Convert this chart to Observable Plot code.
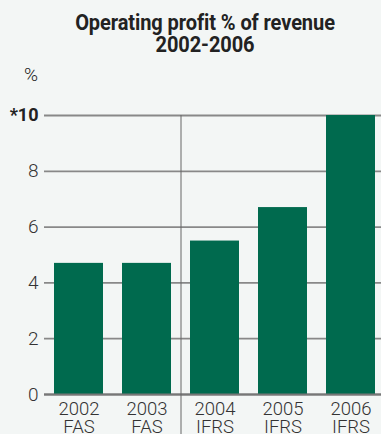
<!DOCTYPE html>
<html>
<head>
<meta charset="utf-8">
<script src="https://cdn.jsdelivr.net/npm/d3@7"></script>
<script src="https://cdn.jsdelivr.net/npm/@observablehq/plot@0.6"></script>
<style>
  html, body { margin: 0; padding: 0; background: #f3f6f5; }
  body { width: 381px; height: 434px; overflow: hidden; position: relative;
         font-family: Roboto, "DejaVu Sans Condensed", sans-serif; color: #222; }
  #title { position: absolute; left: 0; top: 0; width: 410px; text-align: center;
           font-weight: bold; font-size: 22.5px; line-height: 22px; padding-top: 11px; color: #222;
           transform: scaleX(0.89); transform-origin: 205px 0; letter-spacing: -0.1px; }
  #chart { position: absolute; left: 0; top: 60px; }
  #unit { position: absolute; left: 24px; top: 63px; font-size: 19px; font-weight: 300; color: #222; }
</style>
</head>
<body>
<div id="title">Operating profit % of revenue<br>2002-2006</div>
<div id="unit">%</div>
<div id="chart"></div>
<script>
const years = ["2002", "2003", "2004", "2005", "2006"];
const standards = ["FAS", "FAS", "IFRS", "IFRS", "IFRS"];
const profitPct = [4.7, 4.7, 5.5, 6.7, 10.0];
const yTicks = [0, 2, 4, 6, 8];
const yTopTick = [10];

const data = years.map((y, i) => ({year: y, std: standards[i], value: profitPct[i]}));
const font = 'Roboto, "DejaVu Sans Condensed", sans-serif';

const chart = Plot.plot({
  width: 381,
  height: 374,
  marginLeft: 44,
  marginRight: 0,
  marginTop: 55,
  marginBottom: 40,
  style: {background: "transparent", fontFamily: font, overflow: "visible"},
  x: {domain: years, range: [44.5, 384.5], paddingInner: 0.28, paddingOuter: 0.14, axis: null},
  y: {domain: [0, 10], axis: null},
  marks: [
    Plot.ruleY([...yTicks, ...yTopTick], {stroke: "#888", strokeWidth: 1.8}),
    Plot.barY(data, {x: "year", y: "value", fill: "#006a4e"}),
    Plot.ruleY([0], {stroke: "#777", strokeWidth: 1.8}),
    Plot.ruleX([years[2]], {y1: yTopTick[0], y2: -1.5, dx: -34, stroke: "#666", strokeWidth: 1}),
    Plot.text(yTicks, {y: d => d, frameAnchor: "left", dx: -6, textAnchor: "end",
      text: d => String(d), fontSize: 19, fontWeight: 300, fill: "#333"}),
    Plot.text(yTopTick, {y: d => d, frameAnchor: "left", dx: -6, textAnchor: "end",
      text: d => "*" + d, fontSize: 18, fontWeight: "bold", fill: "#222"}),
    Plot.text(data, {x: "year", frameAnchor: "bottom", dy: 7, text: d => d.year,
      lineAnchor: "top", fontSize: 18.5, fontWeight: 300, fill: "#333"}),
    Plot.text(data, {x: "year", frameAnchor: "bottom", dy: 25, text: d => d.std,
      lineAnchor: "top", fontSize: 18.5, fontWeight: 300, fill: "#333"})
  ]
});
document.getElementById("chart").appendChild(chart);
</script>
</body>
</html>
